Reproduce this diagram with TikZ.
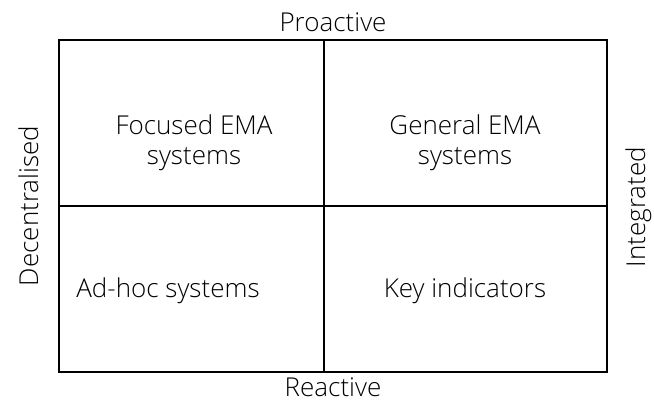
\documentclass[tikz,border=0pt]{standalone}
\usepackage{fontspec}
\setmainfont{Open Sans Light}
\begin{document}
\begin{tikzpicture}[x=1pt,y=-1pt,
  grid/.style={draw=black,line width=2pt},
  lbl/.style={font=\fontsize{26}{30}\selectfont,inner sep=0pt,anchor=base},
  cell/.style={lbl,align=center}]
\useasboundingbox (0,0) rectangle (654,401);
% quadrant frame
\coordinate (tl) at (59,40);
\coordinate (br) at (607,372);
\coordinate (tm) at (324,40);
\coordinate (bm) at (324,372);
\coordinate (ml) at (59,206);
\coordinate (mr) at (607,206);
\draw[grid] (tl) rectangle (br);
\draw[grid] (tm) -- (bm);
\draw[grid] (ml) -- (mr);
% axis labels
\node[lbl] (pro) at (333,32) {Proactive};
\node[lbl] (rea) at (333,396) {Reactive};
\node[lbl,rotate=90] (dec) at (38,206) {Decentralised};
\node[lbl,rotate=90] (int) at (645,207) {Integrated};
% quadrant contents (base anchor sits on the last line)
\node[cell] (fe) at (194,165) {Focused EMA\\systems};
\node[cell] (ge) at (465,165) {General EMA\\systems};
\node[lbl] (ah) at (168,298) {Ad-hoc systems};
\node[lbl] (ki) at (465,298) {Key indicators};
\end{tikzpicture}
\end{document}
